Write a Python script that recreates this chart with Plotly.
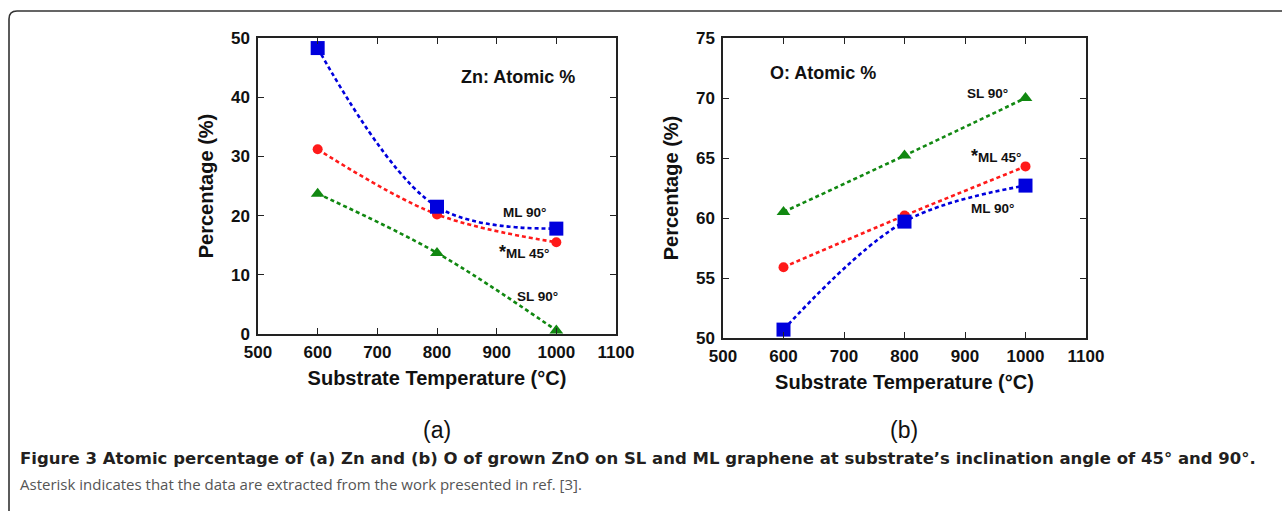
import plotly.graph_objects as go

W, H = 1282, 511

# Substrate temperatures (°C)
temps = [600, 800, 1000]

# Zn atomic percentage
zn_ml90 = [48.3, 21.5, 17.8]
zn_ml45 = [31.2, 20.2, 15.5]
zn_sl90 = [23.7, 13.7, 0.6]

# O atomic percentage
o_sl90 = [60.5, 65.2, 70.0]
o_ml45 = [55.9, 60.2, 64.3]
o_ml90 = [50.7, 59.7, 62.7]

x_ticks = [500, 600, 700, 800, 900, 1000, 1100]
zn_ticks = [0, 10, 20, 30, 40, 50]
o_ticks = [50, 55, 60, 65, 70, 75]

BLUE, RED, GREEN = "#0000dd", "#ff1a1a", "#118811"
FONT = "Liberation Sans, Arial, sans-serif"


def px(x):
    return x / W


def py(y):
    return 1 - y / H


fig = go.Figure()


def series(xa, ya, y, color, symbol, size):
    fig.add_trace(go.Scatter(
        x=temps, y=y, xaxis=xa, yaxis=ya, mode="lines+markers",
        line=dict(color=color, width=2.6, dash="4px,3px", shape="spline", smoothing=1.0),
        marker=dict(color=color, symbol=symbol, size=size, line=dict(width=0)),
        showlegend=False, cliponaxis=False,
    ))


series("x", "y", zn_sl90, GREEN, "triangle-up", 12)
series("x", "y", zn_ml45, RED, "circle", 10)
series("x", "y", zn_ml90, BLUE, "square", 14)
series("x2", "y2", o_sl90, GREEN, "triangle-up", 12)
series("x2", "y2", o_ml45, RED, "circle", 10)
series("x2", "y2", o_ml90, BLUE, "square", 14)

tick_font = dict(family=FONT, size=17, color="#111", weight="bold")
title_font = dict(family=FONT, size=20, color="#111", weight="bold")

common_x = dict(
    range=[500, 1100], tickvals=x_ticks, ticks="inside", ticklen=6, tickwidth=1.2,
    tickcolor="#222", showline=True, linecolor="#222", linewidth=1.5, mirror="ticks",
    showgrid=False, zeroline=False, tickfont=tick_font, automargin=False,
    ticklabelstandoff=2,
    title=dict(text="Substrate Temperature (°C)", font=title_font, standoff=10),
)
common_y = dict(
    ticks="inside", ticklen=6, tickwidth=1.2, tickcolor="#222", showline=True,
    linecolor="#222", linewidth=1.5, mirror="ticks", showgrid=False, zeroline=False,
    tickfont=tick_font, automargin=False, ticklabelstandoff=3,
    title=dict(text="Percentage (%)", font=title_font, standoff=12),
)

fig.update_layout(
    width=W, height=H, margin=dict(l=0, r=0, t=0, b=0, autoexpand=False),
    paper_bgcolor="white", plot_bgcolor="white",
    xaxis=dict(common_x, domain=[px(258), px(616)], anchor="y"),
    yaxis=dict(common_y, domain=[py(334), py(38)], range=[0, 50], tickvals=zn_ticks, anchor="x"),
    xaxis2=dict(common_x, domain=[px(723), px(1086)], anchor="y2"),
    yaxis2=dict(common_y, domain=[py(338), py(38)], range=[50, 75], tickvals=o_ticks, anchor="x2"),
)

lab = dict(family=FONT, size=13.5, color="#111", weight="bold")
head = dict(family=FONT, size=18, color="#111", weight="bold")
star = "<span style='font-size:18px'>*</span>"

labels = [
    ("x", "y", 936, 43.4, "Zn: Atomic %", head),
    ("x", "y", 947, 20.6, "ML 90°", lab),
    ("x", "y", 945, 13.9, star + "ML 45°", lab),
    ("x", "y", 968, 6.4, "SL 90°", lab),
    ("x2", "y2", 665, 72.1, "O: Atomic %", head),
    ("x2", "y2", 938, 70.4, "SL 90°", lab),
    ("x2", "y2", 951, 65.2, star + "ML 45°", lab),
    ("x2", "y2", 945, 60.8, "ML 90°", lab),
]
for xr, yr, x, y, t, f in labels:
    fig.add_annotation(x=x, y=y, xref=xr, yref=yr, text=t, font=f, showarrow=False)

# panel letters
for x, t in [(437, "(a)"), (904, "(b)")]:
    fig.add_annotation(x=px(x), y=py(430), xref="paper", yref="paper", text=t,
                       xanchor="center", yanchor="middle",
                       font=dict(family=FONT, size=23, color="#111"), showarrow=False)

# caption
fig.add_annotation(
    x=px(18), y=py(458), xref="paper", yref="paper", xanchor="left", yanchor="middle",
    text="Figure 3 Atomic percentage of (a) Zn and (b) O of grown ZnO on SL and ML graphene at substrate’s inclination angle of 45° and 90°.",
    font=dict(family="DejaVu Sans, sans-serif", size=16.5, color="#231f20", weight="bold"),
    showarrow=False,
)
fig.add_annotation(
    x=px(18), y=py(484), xref="paper", yref="paper", xanchor="left", yanchor="middle",
    text="Asterisk indicates that the data are extracted from the work presented in ref. [3].",
    font=dict(family="Open Sans, sans-serif", size=15, color="#555"),
    showarrow=False,
)

# rounded frame around the figure
x0, y0, r = px(9), py(11), 8
path = (f"M {x0},{py(520)} L {x0},{py(11 + r)} "
        f"Q {x0},{y0} {px(9 + r)},{y0} L {px(1300)},{y0}")
fig.add_shape(type="path", path=path, xref="paper", yref="paper",
              line=dict(color="#333", width=1.6))

fig.write_html("out.html")
